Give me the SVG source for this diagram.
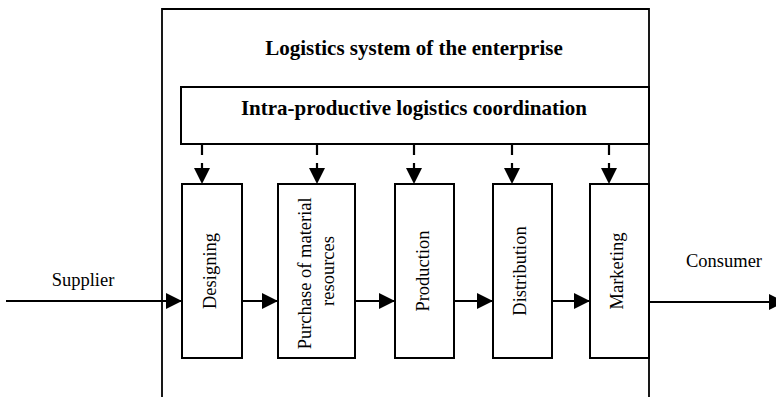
<svg xmlns="http://www.w3.org/2000/svg" width="776" height="397" viewBox="0 0 776 397">
  <style>
    .box { fill: #fff; stroke: #000; stroke-width: 2; }
    .frame { fill: none; stroke: #000; stroke-width: 1.8; }
    .title { font-family: "Liberation Serif", "Times New Roman", serif; font-weight: bold; font-size: 21px; text-anchor: middle; fill: #000; }
    .label { font-family: "Liberation Serif", "Times New Roman", serif; font-size: 18.5px; text-anchor: middle; fill: #000; }
    .flow { stroke: #000; stroke-width: 2.2; fill: none; }
    .dash { stroke: #000; stroke-width: 2.2; fill: none; stroke-dasharray: 11 8; }
  </style>
  <defs>
    <marker id="head" markerUnits="userSpaceOnUse" markerWidth="17" markerHeight="17" refX="16" refY="8" orient="auto">
      <path d="M0,0 L16,8 L0,16 Z" fill="#000"/>
    </marker>
  </defs>

  <rect width="776" height="397" fill="#fff"/>

  <!-- enterprise frame (open at the bottom) -->
  <g id="enterprise">
    <path class="frame" d="M162,397 V9 H649 V397"/>
    <text class="title" x="414" y="55">Logistics system of the enterprise</text>
  </g>

  <g id="coordination">
    <rect class="box" x="181" y="87" width="468" height="57"/>
    <text class="title" x="414" y="115">Intra-productive logistics coordination</text>
  </g>

  <g id="designing">
    <rect class="box" x="182" y="184" width="60" height="174"/>
    <text class="label" x="216" y="271" transform="rotate(-90 216 271)">Designing</text>
  </g>

  <g id="purchase">
    <rect class="box" x="278" y="184" width="77" height="174"/>
    <text class="label" transform="rotate(-90 311 271)">
      <tspan x="311" y="271">Purchase of material</tspan>
      <tspan x="311" y="294">resources</tspan>
    </text>
  </g>

  <g id="production">
    <rect class="box" x="395" y="184" width="59" height="174"/>
    <text class="label" x="429" y="271" transform="rotate(-90 429 271)">Production</text>
  </g>

  <g id="distribution">
    <rect class="box" x="493" y="184" width="59" height="174"/>
    <text class="label" x="526" y="271" transform="rotate(-90 526 271)">Distribution</text>
  </g>

  <g id="marketing">
    <rect class="box" x="590" y="184" width="59" height="174"/>
    <text class="label" x="623" y="271" transform="rotate(-90 623 271)">Marketing</text>
  </g>

  <g id="supplier">
    <text class="label" x="83" y="286">Supplier</text>
  </g>

  <g id="consumer">
    <text class="label" x="724" y="267">Consumer</text>
  </g>

  <g id="connectors">
    <!-- coordination links -->
    <path class="dash" d="M202,144 V170"/>
    <path class="dash" d="M317,144 V170"/>
    <path class="dash" d="M414,144 V170"/>
    <path class="dash" d="M512,144 V170"/>
    <path class="dash" d="M609,144 V170"/>
    <g fill="#000">
      <path d="M194,168 H210 L202,184 Z"/>
      <path d="M309,168 H325 L317,184 Z"/>
      <path d="M406,168 H422 L414,184 Z"/>
      <path d="M504,168 H520 L512,184 Z"/>
      <path d="M601,168 H617 L609,184 Z"/>
    </g>
    <!-- material flow -->
    <path class="flow" d="M6,301 H182" marker-end="url(#head)"/>
    <path class="flow" d="M242,301 H278" marker-end="url(#head)"/>
    <path class="flow" d="M355,301 H395" marker-end="url(#head)"/>
    <path class="flow" d="M454,301 H493" marker-end="url(#head)"/>
    <path class="flow" d="M552,301 H590" marker-end="url(#head)"/>
    <path class="flow" d="M649,302 H785" marker-end="url(#head)"/>
  </g>
</svg>
